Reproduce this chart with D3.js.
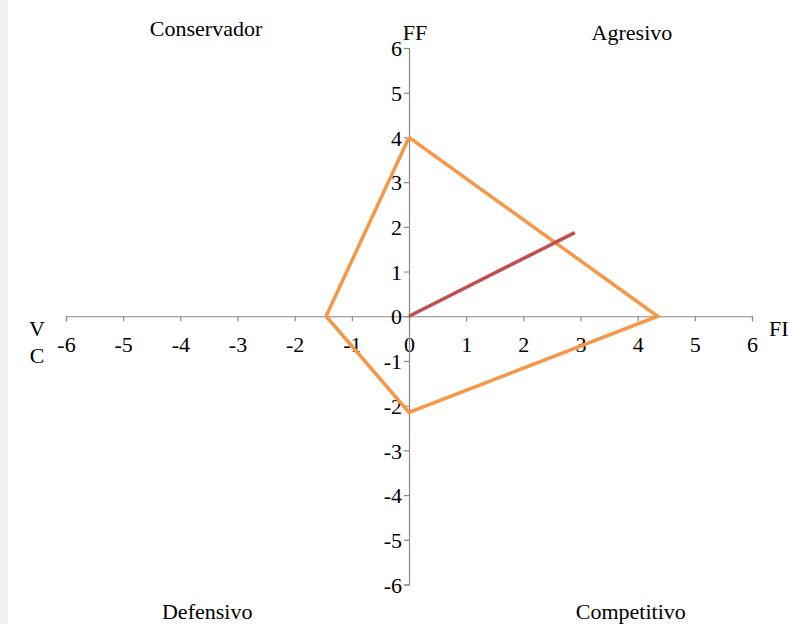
<!DOCTYPE html>
<html><head><meta charset="utf-8">
<script src="https://cdn.jsdelivr.net/npm/d3@7"></script>
<style>body{margin:0;background:#fff}svg{display:block}text{font-family:"Liberation Serif","Times New Roman",serif;fill:#000}</style>
</head><body>
<script>
const ticks = [-6,-5,-4,-3,-2,-1,0,1,2,3,4,5,6];
const polyX = [0, 4.35, 0, -1.45, 0];
const polyY = [4, 0, -2.15, 0, 4];
const vecX = [0, 2.9];
const vecY = [0, 1.87];
const quadrants = [
  {t:"Conservador", x:-3.55, y:6.45},
  {t:"Agresivo", x:3.9, y:6.35},
  {t:"Defensivo", x:-3.53, y:-6.6},
  {t:"Competitivo", x:3.88, y:-6.6}
];

const W=792,H=624;
const FS=22;
const svg=d3.select("body").append("svg").attr("width",W).attr("height",H);
svg.append("rect").attr("x",0).attr("y",0).attr("width",8).attr("height",H).attr("fill","#eef0f3");
const x=d3.scaleLinear().domain([-6,6]).range([66,752]);
const y=d3.scaleLinear().domain([-6,6]).range([584.5,48]);
const fmt=d=>String(d);

const gx=svg.append("g").attr("transform",`translate(0,${y(0)})`)
  .call(d3.axisBottom(x).tickValues(ticks).tickSize(5).tickSizeOuter(5).tickFormat(fmt));
const gy=svg.append("g").attr("transform",`translate(${x(0)},0)`)
  .call(d3.axisLeft(y).tickValues(ticks).tickSize(5).tickSizeOuter(5).tickFormat(fmt));
[gx,gy].forEach(g=>{
  g.attr("font-family",null).attr("font-size",null);
  g.selectAll("path,line").attr("stroke","#888").attr("stroke-width",1.2);
  g.selectAll("text").style("font-family","'Liberation Serif','Times New Roman',serif").style("font-size",FS+"px").attr("fill","#000");
});
gx.selectAll("text").attr("y",20).attr("dy","0.71em");
gy.selectAll("text").attr("x",-7).attr("dy","0.35em");

const line=d3.line().x(d=>x(d[0])).y(d=>y(d[1]));
svg.append("path").datum(polyX.map((v,i)=>[v,polyY[i]])).attr("d",line)
  .attr("fill","none").attr("stroke","#f79646").attr("stroke-width",3.5).attr("stroke-linejoin","miter");
svg.append("path").datum(vecX.map((v,i)=>[v,vecY[i]])).attr("d",line)
  .attr("fill","none").attr("stroke","#c0504d").attr("stroke-width",3.5);

svg.selectAll(".q").data(quadrants).enter().append("text")
  .attr("x",d=>x(d.x)).attr("y",d=>y(d.y)).attr("text-anchor","middle").attr("dy","0.35em")
  .style("font-size",FS+"px").text(d=>d.t);

svg.append("text").attr("x",x(-0.11)).attr("y",y(6.35)).style("font-size",FS+"px").attr("dy","0.35em").text("FF");
svg.append("text").attr("x",769).attr("y",328).style("font-size",FS+"px").attr("dy","0.35em").text("FI");
svg.append("text").attr("x",37).attr("y",328).style("font-size",FS+"px").attr("text-anchor","middle").attr("dy","0.35em").text("V");
svg.append("text").attr("x",37).attr("y",355).style("font-size",FS+"px").attr("text-anchor","middle").attr("dy","0.35em").text("C");
</script>
</body></html>
